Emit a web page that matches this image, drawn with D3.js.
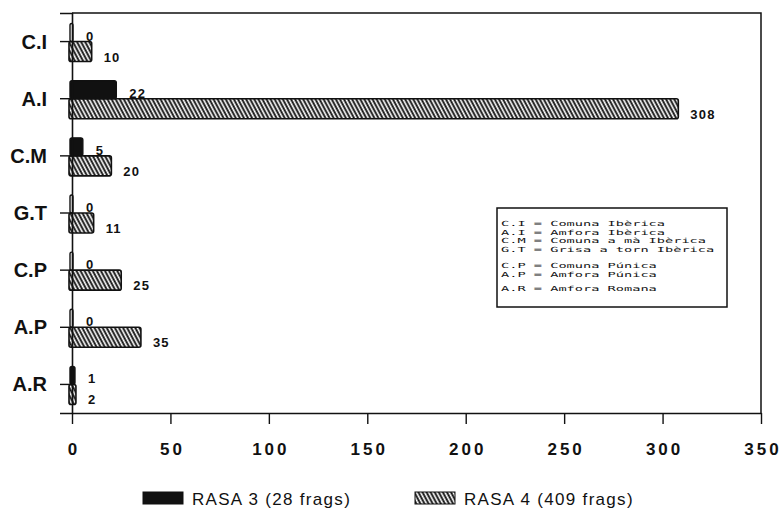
<!DOCTYPE html>
<html><head><meta charset="utf-8">
<script src="https://cdn.jsdelivr.net/npm/d3@7"></script>
<style>
html,body{margin:0;padding:0;background:#fff;}
svg{display:block;}
</style></head>
<body>
<svg id="chart" width="782" height="523"></svg>
<script>
const categories = ["C.I", "A.I", "C.M", "G.T", "C.P", "A.P", "A.R"];
const rasa3 = [0, 22, 5, 0, 0, 0, 1];
const rasa4 = [10, 308, 20, 11, 25, 35, 2];
const xTicks = [0, 50, 100, 150, 200, 250, 300, 350];
const seriesNames = ["RASA 3 (28 frags)", "RASA 4 (409 frags)"];
const keyLines = [
  "C.I = Comuna Ibèrica",
  "A.I = Amfora Ibèrica",
  "C.M = Comuna a mà Ibèrica",
  "G.T = Grisa a torn Ibèrica",
  "",
  "C.P = Comuna Púnica",
  "A.P = Amfora Púnica",
  "",
  "A.R = Amfora Romana"
];

const svg = d3.select("#chart");
const m = {left: 72, right: 761, top: 13, bottom: 413};

const x = d3.scaleLinear().domain([0, 350]).range([m.left, m.right]);
const y = d3.scaleBand().domain(categories).range([m.top, m.bottom]).padding(0);

const defs = svg.append("defs");
const pat = defs.append("pattern").attr("id", "hatch").attr("patternUnits", "userSpaceOnUse")
  .attr("width", 3.6).attr("height", 4).attr("patternTransform", "rotate(-28)");
pat.append("rect").attr("width", 3.6).attr("height", 4).attr("fill", "#fff");
pat.append("line").attr("x1", 1.5).attr("y1", 0).attr("x2", 1.5).attr("y2", 4)
  .attr("stroke", "#111").attr("stroke-width", 1.9);

// frame
svg.append("path")
  .attr("d", `M${m.left},${m.top}H${m.right}V${m.bottom}`)
  .attr("fill", "none").attr("stroke", "#111").attr("stroke-width", 1.5);

const font = "'Liberation Sans', Arial, sans-serif";

// bars
const cy = c => y(c) + y.bandwidth() / 2;
const g = svg.append("g");
categories.forEach((c, i) => {
  g.append("rect")
    .attr("x", x(0) - 3).attr("y", cy(c))
    .attr("width", x(rasa4[i]) - x(0) + 3).attr("height", 20)
    .attr("rx", 2).attr("fill", "url(#hatch)")
    .attr("stroke", "#111").attr("stroke-width", 1.6);
  g.append("rect")
    .attr("x", x(0) - 2).attr("y", cy(c) - 18)
    .attr("width", x(rasa3[i]) - x(0) + 3).attr("height", 18)
    .attr("rx", 2).attr("fill", rasa3[i] > 0 ? "#111" : "#fff")
    .attr("stroke", "#111").attr("stroke-width", 1.4);
  g.append("text").attr("x", x(rasa3[i]) + 14).attr("y", cy(c) - 1)
    .attr("font-family", font).attr("font-weight", "bold").attr("font-size", 13)
    .attr("letter-spacing", 1.2).attr("fill", "#111").text(rasa3[i]);
  g.append("text").attr("x", x(rasa4[i]) + 12).attr("y", cy(c) + 20)
    .attr("font-family", font).attr("font-weight", "bold").attr("font-size", 13)
    .attr("letter-spacing", 1.2).attr("fill", "#111").text(rasa4[i]);
});

// y axis
const yAxis = svg.append("g").attr("transform", `translate(${m.left},0)`)
  .call(d3.axisLeft(y).tickSize(12).tickPadding(13));
yAxis.select(".domain").attr("stroke", "#111").attr("stroke-width", 1.6);
yAxis.selectAll(".tick line").attr("stroke", "#111").attr("stroke-width", 1.4);
yAxis.selectAll(".tick text").attr("font-family", font).attr("font-size", 20)
  .attr("font-weight", "bold").attr("fill", "#111").attr("dy", "0.35em");

// x axis
const xAxis = svg.append("g").attr("transform", `translate(0,${m.bottom})`)
  .call(d3.axisBottom(x).tickValues(xTicks).tickSize(11).tickSizeOuter(0));
xAxis.select(".domain").attr("stroke", "#111").attr("stroke-width", 1.6);
xAxis.selectAll(".tick line").attr("stroke", "#111").attr("stroke-width", 1.4);
xAxis.selectAll(".tick text").attr("font-family", font).attr("font-size", 17)
  .attr("font-weight", "bold").attr("letter-spacing", 3).attr("fill", "#111")
  .attr("y", 42).attr("dy", 0).attr("dx", 1.5);

// key box
const kb = svg.append("g").attr("transform", "translate(497,208)");
kb.append("rect").attr("width", 230).attr("height", 99)
  .attr("fill", "#fff").attr("stroke", "#111").attr("stroke-width", 1.5);
const lineY = [18, 26.5, 35, 43.5, 0, 60, 68.5, 0, 83];
keyLines.forEach((t, i) => {
  if (!t) return;
  kb.append("text").attr("x", 4).attr("y", lineY[i])
    .attr("font-family", "'DejaVu Sans Mono', monospace").attr("font-size", 7)
    .attr("textLength", t.length * 8.2).attr("lengthAdjust", "spacingAndGlyphs")
    .attr("fill", "#111").text(t);
});

// legend
const lg = svg.append("g");
const legX = [143, 415];
seriesNames.forEach((s, i) => {
  lg.append("rect").attr("x", legX[i]).attr("y", 492).attr("width", 40).attr("height", 12)
    .attr("fill", i === 0 ? "#111" : "url(#hatch)")
    .attr("stroke", "#111").attr("stroke-width", 1);
  lg.append("text").attr("x", legX[i] + 49).attr("y", 505)
    .attr("font-family", font).attr("font-size", 17).attr("letter-spacing", 1.3)
    .attr("fill", "#111").text(s);
});
</script>
</body></html>
